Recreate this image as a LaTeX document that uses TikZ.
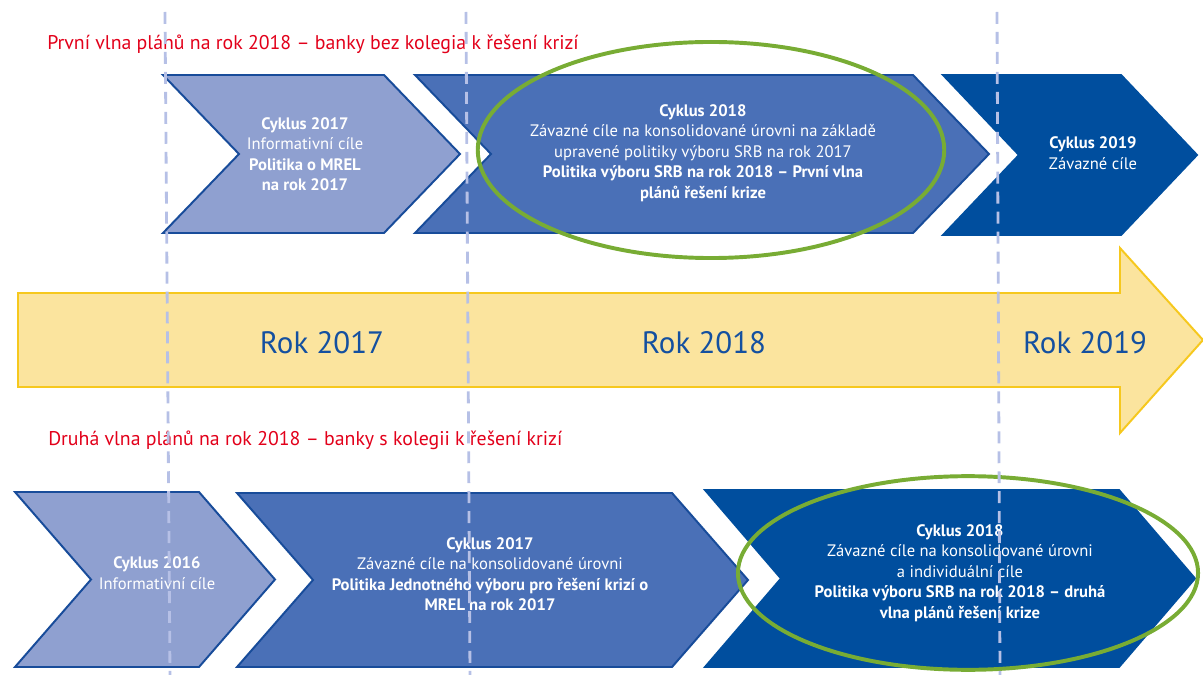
\documentclass[tikz,border=0pt]{standalone}
\usepackage{fontspec}
\setmainfont{PT Sans}
\usetikzlibrary{positioning}
\definecolor{cyklight}{RGB}{143,160,208}
\definecolor{cykmid}{RGB}{74,112,183}
\definecolor{cykdark}{RGB}{0,78,158}
\definecolor{cykedge}{RGB}{24,76,154}
\definecolor{rokfill}{RGB}{251,228,158}
\definecolor{rokedge}{RGB}{246,200,30}
\definecolor{rokblue}{RGB}{20,80,160}
\definecolor{wavered}{RGB}{226,0,26}
\definecolor{ovalgreen}{RGB}{120,172,52}
\definecolor{guideblue}{RGB}{182,192,230}
\tikzset{font=\small}
\tikzset{
  chev/.style={line width=1.4pt, line join=miter},
  boxtext/.style={text=white, align=center, font=\fontsize{11.8}{14.6}\selectfont},
  wave/.style={text=wavered, anchor=west, inner sep=0pt, font=\fontsize{14.1}{17}\selectfont},
  rok/.style={text=rokblue, font=\fontsize{22}{26}\selectfont},
  oval/.style={draw=ovalgreen, line width=2.8pt},
  guide/.style={draw=guideblue, line width=2pt, dash pattern=on 8.5pt off 5.7pt}
}
\begin{document}
\begin{tikzpicture}[x=0.025cm,y=-0.025cm]
\useasboundingbox (0,0) rectangle (1203,675);
% year arrow
\filldraw[fill=rokfill, draw=rokedge, line width=1.4pt] (18,293) -- (1120,293) -- (1120,248) -- (1203,340) -- (1120,433) -- (1120,387) -- (18,387) -- cycle;
% chevrons, top row then bottom row
\foreach \l/\r/\t/\b/\c/\e in {163/460/75/233/cyklight/cykedge, 415/989/75/233/cykmid/cykedge, 943/1197/75/235/cykdark/cykdark,
                               15/275/492/667/cyklight/cykedge, 237/748/493/667/cykmid/cykedge, 705/1195/490/667/cykdark/cykdark}{
  \filldraw[chev, fill=\c, draw=\e] (\l,\t) -- (\r-76,\t) -- (\r,{(\t+\b)/2}) -- (\r-76,\b) -- (\l,\b) -- (\l+76,{(\t+\b)/2}) -- cycle;
};
\node[wave] (wave1) at (47,44) {První vlna plánů na rok 2018 – banky bez kolegia k řešení krizí};
\node[wave] (wave2) at (48,440) {Druhá vlna plánů na rok 2018 – banky s kolegii k řešení krizí};
\node[boxtext] (top17) at (305,154) {\textbf{Cyklus 2017}\\Informativní cíle\\\textbf{Politika o MREL}\\\textbf{na rok 2017}};
\node[boxtext] (top18) at (703,153) {\textbf{Cyklus 2018}\\Závazné cíle na konsolidované úrovni na základě\\upravené politiky výboru SRB na rok 2017\\\textbf{Politika výboru SRB na rok 2018 – První vlna}\\\textbf{plánů řešení krize}};
\node[boxtext] (top19) at (1093,153) {\textbf{Cyklus 2019}\\Závazné cíle};
\node[rok] (rok17) at (322,343) {Rok 2017};
\node[rok] (rok18) at (704,343) {Rok 2018};
\node[rok] (rok19) at (1085,343) {Rok 2019};
\node[boxtext] (bot16) at (157,573) {\textbf{Cyklus 2016}\\Informativní cíle};
\node[boxtext] (bot17) at (490,574) {\textbf{Cyklus 2017}\\Závazné cíle na konsolidované úrovni\\\textbf{Politika Jednotného výboru pro řešení krizí o}\\\textbf{MREL na rok 2017}};
\node[boxtext] (bot18) at (960,573) {\textbf{Cyklus 2018}\\Závazné cíle na konsolidované úrovni\\a individuální cíle\\\textbf{Politika výboru SRB na rok 2018 – druhá}\\\textbf{vlna plánů řešení krize}};
% green ovals
\draw[oval] (711,150) ellipse [x radius=5.83cm, y radius=2.7cm];
\draw[oval] (968,573) ellipse [x radius=5.75cm, y radius=2.42cm];
% dashed year borders
\foreach \a/\b in {165/170, 466/470, 997/1000}
  \draw[guide] (\a,12) -- (\b,675);
\end{tikzpicture}
\end{document}
